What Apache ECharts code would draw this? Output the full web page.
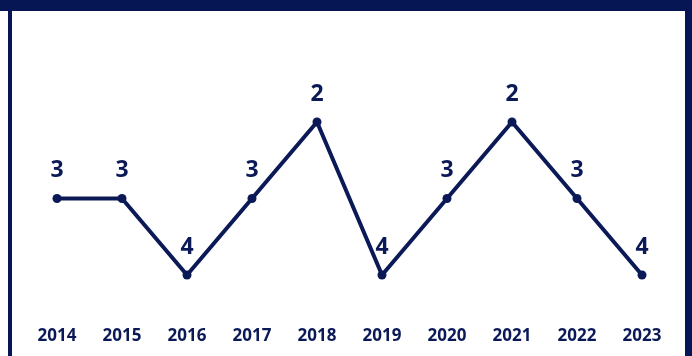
<!DOCTYPE html>
<html>
<head>
<meta charset="utf-8">
<script src="https://cdn.jsdelivr.net/npm/echarts@6/dist/echarts.min.js"></script>
<style>
  html, body { margin: 0; padding: 0; background: #ffffff; }
  #chart { width: 692px; height: 356px; }
</style>
</head>
<body>
<div id="chart"></div>
<script>
// Yearly ranking (lower number = better, so the axis runs upside down)
const years = ['2014', '2015', '2016', '2017', '2018', '2019', '2020', '2021', '2022', '2023'];
const ranks = [3, 3, 4, 3, 2, 4, 3, 2, 3, 4];

const navy = '#0b1a57';

const chart = echarts.init(document.getElementById('chart'), null, { renderer: 'canvas' });
chart.setOption({
  animation: false,
  backgroundColor: '#ffffff',
  graphic: [
    { type: 'rect', shape: { x: 0, y: 0, width: 692, height: 11 }, style: { fill: '#061554' }, silent: true },
    { type: 'rect', shape: { x: 8, y: 0, width: 4, height: 356 }, style: { fill: '#061554' }, silent: true },
    { type: 'rect', shape: { x: 685, y: 0, width: 7, height: 356 }, style: { fill: '#061554' }, silent: true }
  ],
  grid: { left: 24.5, right: 17.5, top: 83.75, bottom: 42.75, containLabel: false },
  xAxis: {
    type: 'category',
    data: years,
    boundaryGap: true,
    axisLine: { show: false },
    axisTick: { show: false },
    axisLabel: {
      color: navy,
      fontFamily: 'Open Sans',
      fontWeight: 'bold',
      fontSize: 17,
      margin: 14
    }
  },
  yAxis: {
    type: 'value',
    inverse: true,
    min: 1.5,
    max: 4.5,
    show: false,
    splitLine: { show: false }
  },
  series: [{
    type: 'line',
    data: ranks,
    symbol: 'circle',
    symbolSize: 9,
    lineStyle: { color: navy, width: 4 },
    itemStyle: { color: navy },
    label: {
      show: true,
      position: 'top',
      distance: 12,
      color: navy,
      fontFamily: 'Open Sans',
      fontWeight: 'bold',
      fontSize: 23
    }
  }]
});
</script>
</body>
</html>
